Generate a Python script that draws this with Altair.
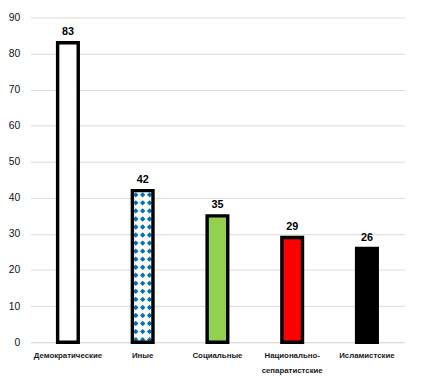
import altair as alt
import pandas as pd

categories = ["Демократические", "Иные", "Социальные", "Национально-сепаратистские", "Исламистские"]
values = [83, 42, 35, 29, 26]
fills = ["#FFFFFF", "#FFFFFF", "#92D050", "#FF0000", "#000000"]
y_ticks = [0, 10, 20, 30, 40, 50, 60, 70, 80, 90]

df = pd.DataFrame({"cat": categories, "val": values, "fill": fills})

FONT = "Liberation Sans"

xenc = alt.X("cat:N", sort=categories, title=None,
             scale=alt.Scale(paddingInner=0.1, paddingOuter=0.05),
             axis=alt.Axis(labelAngle=0, ticks=False, domain=True, domainColor="#d9d9d9",
                           domainWidth=1, labelPadding=10, labelFont=FONT, labelFontSize=8,
                           labelFontWeight="bold", labelColor="#1a1a1a", labelLineHeight=15,
                           labelLimit=200,
                           labelExpr="indexof(datum.label, '-') > 0 ? [slice(datum.label, 0, indexof(datum.label, '-') + 1), slice(datum.label, indexof(datum.label, '-') + 1)] : datum.label"))
yenc = alt.Y("val:Q", title=None,
             scale=alt.Scale(domain=[0, 90], nice=False),
             axis=alt.Axis(values=y_ticks, ticks=False, domain=False, gridColor="#d9d9d9",
                           labelOverlap=False, labelPadding=11, labelFont=FONT, labelFontSize=10.5,
                           labelColor="#111111"))

base = alt.Chart(df)

bars_fill = base.mark_bar(size=21, strokeWidth=0).encode(
    x=xenc, y=yenc,
    fill=alt.Fill("fill:N", scale=None),
)

# diamond pattern for the "Иные" bar
pattern_src = alt.Chart(alt.sequence(start=0.7, stop=values[1], step=2.23, as_="val")).transform_calculate(
    cat=f"'{categories[1]}'"
)
diamonds = [
    pattern_src.mark_point(shape="diamond", filled=True, color="#0070C0", size=30, opacity=1, xOffset=off).encode(
        x=xenc, y=yenc
    )
    for off in (-7, 0, 7)
]

bars_stroke = base.mark_bar(size=21, fillOpacity=0, stroke="#000000", strokeWidth=3.5).encode(
    x=xenc, y=yenc
)

labels = base.mark_text(font=FONT, fontSize=11, fontWeight="bold", color="#000000",
                        baseline="alphabetic", dy=-8).encode(
    x=xenc, y=yenc, text="val:Q"
)

chart = alt.layer(bars_fill, *diamonds, bars_stroke, labels).properties(
    width=381, height=331,
    autosize=alt.AutoSizeParams(type="none"),
    padding={"left": 23, "top": 6, "right": 16, "bottom": 39},
    background="#FFFFFF",
).configure_view(stroke=None)

chart.save("out.html", embed_options={"renderer": "svg", "actions": False})
